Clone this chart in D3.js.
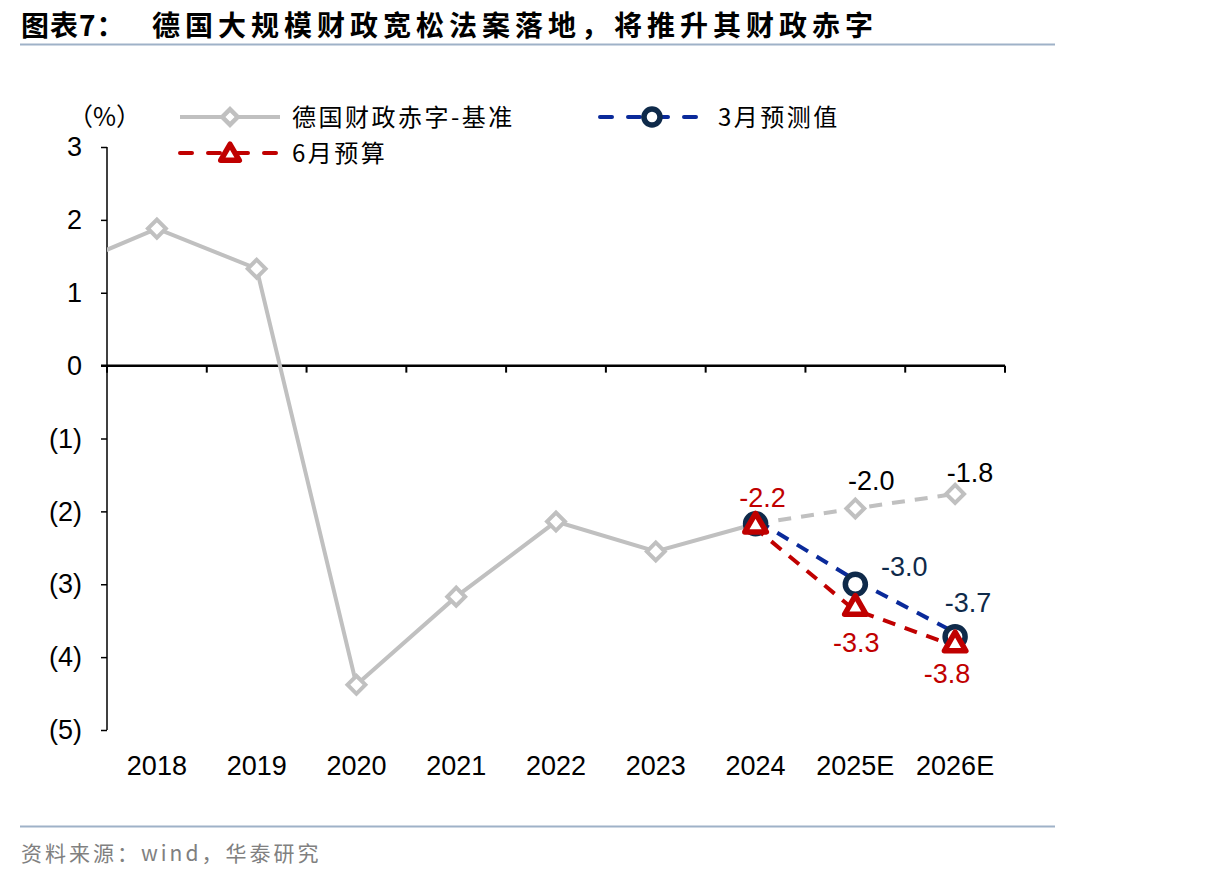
<!DOCTYPE html>
<html>
<head>
<meta charset="utf-8">
<script src="https://cdn.jsdelivr.net/npm/d3@7"></script>
<style>
  body { margin: 0; background: #fff; }
  svg { display: block; }
</style>
</head>
<body>
<svg id="chart" width="1206" height="881"></svg>
<script>
// categories (2017 only feeds the clipped line segment at the left edge)
var years = ["2017", "2018", "2019", "2020", "2021", "2022", "2023", "2024", "2025E", "2026E"];
var baseVals = [1.3, 1.88, 1.33, -4.38, -3.17, -2.14, -2.55, -2.17, -1.96, -1.76];
var marchVals = [-2.17, -3.0, -3.72];   // 2024, 2025E, 2026E
var juneVals = [-2.17, -3.3, -3.8];
var fcYears = ["2024", "2025E", "2026E"];
var yTicks = [3, 2, 1, 0, -1, -2, -3, -4, -5];

var W = 1206, H = 881;
var margin = {top: 147, left: 107, right: 201, bottom: 151};

var svg = d3.select("#chart");

var GRAY = "#c0c0c0", BLUE = "#0a2a9a", NAVY = "#0f2a4a", RED = "#c00000";
var CJK = "'Noto Sans CJK SC'", NUM = "Arial, 'Liberation Sans'";

// title
svg.append("text")
  .attr("x", 21).attr("y", 36)
  .style("font-family", CJK).style("font-weight", "bold")
  .style("font-size", "28px").style("letter-spacing", "1px")
  .text("图表7：");
svg.append("text")
  .attr("x", 152).attr("y", 36)
  .style("font-family", CJK).style("font-weight", "bold")
  .style("font-size", "28px").style("letter-spacing", "5px")
  .text("德国大规模财政宽松法案落地，将推升其财政赤字");
svg.append("line")
  .attr("x1", 20).attr("x2", 1055).attr("y1", 44.5).attr("y2", 44.5)
  .style("stroke", "#9fb2c8").style("stroke-width", 2);

// source
svg.append("line")
  .attr("x1", 20).attr("x2", 1055).attr("y1", 826.5).attr("y2", 826.5)
  .style("stroke", "#9fb2c8").style("stroke-width", 2);
svg.append("text")
  .attr("x", 21).attr("y", 861)
  .style("font-family", CJK)
  .style("font-size", "21px").style("letter-spacing", "3px")
  .style("fill", "#808080")
  .text("资料来源：wind，华泰研究");

// scales
var x = d3.scaleLinear()
  .domain([0.5, 9.5])
  .range([margin.left, 1005]);
var y = d3.scaleLinear()
  .domain([-5, 3])
  .range([730, margin.top]);
var xi = function(yr) { return x(years.indexOf(yr)); };

// clip
svg.append("clipPath").attr("id", "plotClip")
  .append("rect").attr("x", margin.left).attr("y", 0)
  .attr("width", 1206 - margin.left).attr("height", H);

// y axis
var yAxis = svg.append("g")
  .attr("transform", "translate(" + margin.left + ",0)")
  .call(d3.axisLeft(y).tickValues(yTicks).tickSize(6).tickPadding(19)
    .tickFormat(function(d) { return d < 0 ? "(" + (-d) + ")" : d; }));
yAxis.select(".domain").attr("d", "M0," + y(3) + "V" + y(-5)).style("stroke", "#000").style("stroke-width", 1.5);
yAxis.selectAll(".tick line").style("stroke", "#000").style("stroke-width", 1.5);
yAxis.selectAll(".tick text")
  .style("font-family", NUM)
  .style("font-size", "27px").style("fill", "#000");

// x axis at zero
var bounds = d3.range(0, 10).map(function(i) { return x(i + 0.5); });
svg.append("line")
  .attr("x1", margin.left - 6).attr("x2", 1005)
  .attr("y1", y(0)).attr("y2", y(0))
  .style("stroke", "#000").style("stroke-width", 2.5);
svg.selectAll(".xtick").data(bounds).enter().append("line")
  .attr("class", "xtick")
  .attr("x1", function(d) { return d; }).attr("x2", function(d) { return d; })
  .attr("y1", y(0)).attr("y2", y(0) + 7)
  .style("stroke", "#000").style("stroke-width", 2);

svg.selectAll(".xlab").data(years.slice(1)).enter().append("text")
  .attr("class", "xlab")
  .attr("x", function(d) { return xi(d); })
  .attr("y", 775)
  .attr("text-anchor", "middle")
  .style("font-family", NUM)
  .style("font-size", "27px").style("fill", "#000")
  .text(function(d) { return d; });

// series
var line = d3.line()
  .x(function(d) { return xi(d.year); })
  .y(function(d) { return y(d.v); });

var base = years.map(function(yr, i) { return {year: yr, v: baseVals[i]}; });
var solidPart = base.slice(0, 8);
var dashPart = base.slice(7);
var march = fcYears.map(function(yr, i) { return {year: yr, v: marchVals[i]}; });
var june = fcYears.map(function(yr, i) { return {year: yr, v: juneVals[i]}; });

var plot = svg.append("g").attr("clip-path", "url(#plotClip)");

plot.append("path").datum(solidPart).attr("d", line)
  .style("fill", "none").style("stroke", GRAY).style("stroke-width", 4);
plot.append("path").datum(dashPart).attr("d", line)
  .style("fill", "none").style("stroke", GRAY).style("stroke-width", 4)
  .style("stroke-dasharray", "13,10");
plot.append("path").datum(march).attr("d", line)
  .attr("transform", "translate(2,-3)")
  .style("fill", "none").style("stroke", BLUE).style("stroke-width", 4)
  .style("stroke-dasharray", "13,10");
plot.append("path").datum(june).attr("d", line)
  .attr("transform", "translate(-2,3)")
  .style("fill", "none").style("stroke", RED).style("stroke-width", 4)
  .style("stroke-dasharray", "13,10");

// markers
var diamond = d3.symbol().type(d3.symbolSquare).size(160);
plot.selectAll(".dm").data(base.slice(1)).enter().append("path")
  .attr("class", "dm")
  .attr("d", diamond)
  .attr("transform", function(d) { return "translate(" + xi(d.year) + "," + y(d.v) + ") rotate(45)"; })
  .style("fill", "#fff").style("stroke", GRAY).style("stroke-width", 4);

plot.selectAll(".cm").data(march).enter().append("circle")
  .attr("class", "cm")
  .attr("cx", function(d) { return xi(d.year); })
  .attr("cy", function(d) { return y(d.v); })
  .attr("r", 10)
  .style("fill", "#fff").style("stroke", NAVY).style("stroke-width", 5.5);

var tri = d3.symbol().type(d3.symbolTriangle).size(200);
plot.selectAll(".tm").data(june).enter().append("path")
  .attr("class", "tm")
  .attr("d", tri)
  .attr("transform", function(d) { return "translate(" + xi(d.year) + "," + (y(d.v) + 2) + ")"; })
  .style("fill", "#fff").style("stroke", RED).style("stroke-width", 5.5)
  .style("stroke-linejoin", "round");

// data labels
var fmt = d3.format(".1f");
function label(d, dx, dy, color) {
  svg.append("text")
    .attr("x", xi(d.year) + dx).attr("y", y(d.v) + dy)
    .attr("text-anchor", "middle")
    .style("font-family", NUM)
    .style("font-size", "27px").style("fill", color)
    .text(fmt(d.v).replace("−", "-"));
}
label(base[8], 16, -18, "#000");
label(base[9], 15, -12, "#000");
label(june[0], 7, -17, RED);
label(march[1], 49, -8, NAVY);
label(march[2], 13, -25, NAVY);
label(june[1], 1, 46, RED);
label(june[2], -8, 40, RED);

// unit
svg.append("text")
  .attr("x", 68).attr("y", 126)
  .style("font-family", CJK)
  .style("font-size", "25px").style("fill", "#000")
  .text("（%）");

// legend
var lg = svg.append("g")
  .style("font-family", CJK)
  .style("font-size", "24px").style("letter-spacing", "2.5px");

lg.append("line").attr("x1", 180).attr("x2", 280).attr("y1", 117).attr("y2", 117)
  .style("stroke", GRAY).style("stroke-width", 4);
lg.append("path").attr("d", d3.symbol().type(d3.symbolSquare).size(120))
  .attr("transform", "translate(230,117) rotate(45)")
  .style("fill", "#fff").style("stroke", GRAY).style("stroke-width", 4.5);
lg.append("text").attr("x", 292).attr("y", 126).text("德国财政赤字-基准");

lg.append("line").attr("x1", 600).attr("x2", 706).attr("y1", 117).attr("y2", 117)
  .style("stroke", BLUE).style("stroke-width", 4).style("stroke-dasharray", "12,16")
  .style("stroke-linecap", "round");
lg.append("circle").attr("cx", 652).attr("cy", 117).attr("r", 8)
  .style("fill", "#fff").style("stroke", NAVY).style("stroke-width", 5.5);
lg.append("text").attr("x", 718).attr("y", 126).text("3月预测值");

lg.append("line").attr("x1", 180).attr("x2", 276).attr("y1", 153).attr("y2", 153)
  .style("stroke", RED).style("stroke-width", 4).style("stroke-dasharray", "12,16")
  .style("stroke-linecap", "round");
lg.append("path").attr("d", d3.symbol().type(d3.symbolTriangle).size(150))
  .attr("transform", "translate(230,155)")
  .style("fill", "#fff").style("stroke", RED).style("stroke-width", 5.5)
  .style("stroke-linejoin", "round");
lg.append("text").attr("x", 292).attr("y", 162).text("6月预算");
</script>
</body>
</html>
